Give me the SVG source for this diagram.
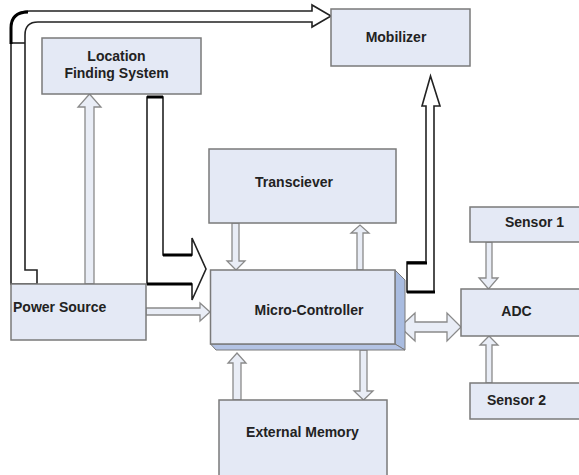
<svg xmlns="http://www.w3.org/2000/svg" width="579" height="475" viewBox="0 0 579 475">
<style>
.box{fill:#e4e9f5;stroke:#7a7a7a;stroke-width:1.5}
.lbl{font-family:"Liberation Sans",Arial,sans-serif;font-weight:bold;font-size:14px;fill:#222;text-anchor:middle}
.la{fill:#e9edf6;stroke:#8a8a8a;stroke-width:1.3;stroke-linejoin:miter}
.ba{fill:#ffffff;stroke:#222;stroke-width:1.6;stroke-linejoin:miter}
.thick{stroke:#000;stroke-width:3;fill:none}
</style>
<rect width="579" height="475" fill="#ffffff"/>

<g id="connectors">
  <!-- Power Source to Mobilizer (big black outline arrow) -->
  <path class="ba" d="M11,284 V30 Q11,11 30,11 H312 V5 L331,16 L312,27 V22 H38 Q25,22 25,35 V270 H37 V284 Z"/>
  <line x1="11" y1="43" x2="25" y2="43" stroke="#222" stroke-width="1.6"/>
  <path class="thick" d="M11,44 V28 Q11,12 28,12" stroke-width="2.5"/>
  <!-- LFS to Micro-Controller (big black outline arrow) -->
  <path class="ba" d="M147,97 H163 V255 H192 V238 L206,269 L192,300 V284 H147 Z"/>
  <path class="thick" d="M147,97 H163 M163,255 H192 M147,284 H192"/>
  <!-- Micro-Controller to Mobilizer -->
  <path class="ba" d="M407,262 H426 V106 H422 L430.5,76 L440,106 H434 V292 H407 Z"/>
  <path class="thick" d="M407,263 H427 M407,292 H435"/>
  <!-- Power Source to LFS -->
  <path class="la" d="M85,284 V107 H78 L89.5,94 L101,107 H94 V284 Z"/>
  <!-- Power Source to Micro -->
  <path class="la" d="M146,308 H200 V303 L210,312 L200,321 V315 H146 Z"/>
  <!-- Transceiver to Micro -->
  <path class="la" d="M232,223 V261 H227 L236,270 L245,261 H239 V223 Z"/>
  <!-- Micro to Transceiver -->
  <path class="la" d="M357,270 V233 H351 L360,225 L369,233 H363 V270 Z"/>
  <!-- External Memory to Micro -->
  <path class="la" d="M233,400 V363 H228 L237,353 L246,363 H241 V400 Z"/>
  <!-- Micro to External Memory -->
  <path class="la" d="M360,350 V391 H354 L363.5,400 L373,391 H367 V350 Z"/>
  <!-- Sensor 1 to ADC -->
  <path class="la" d="M486,242 V278 H479 L488.5,289 L498,278 H492 V242 Z"/>
  <!-- Sensor 2 to ADC -->
  <path class="la" d="M486,383 V345 H480 L489,336 L498,345 H492 V383 Z"/>
  <!-- Micro <-> ADC -->
  <path class="la" d="M400,327 L415,313 V322 H447 V313 L461,327 L447,341 V332 H415 V341 Z"/>
</g>

<g id="mobilizer">
  <rect class="box" x="331" y="9" width="139" height="57"/>
  <text class="lbl" x="396" y="42">Mobilizer</text>
</g>

<g id="lfs">
  <rect class="box" x="42" y="38" width="159" height="56"/>
  <text class="lbl" x="116.5" y="61">Location</text>
  <text class="lbl" x="116.5" y="78">Finding System</text>
</g>

<g id="transceiver">
  <rect class="box" x="209" y="149" width="187" height="74"/>
  <text class="lbl" x="294" y="187">Transciever</text>
</g>

<g id="power-source">
  <rect class="box" x="11" y="284" width="135" height="56"/>
  <text class="lbl" x="13" y="312" style="text-anchor:start">Power Source</text>
</g>

<g id="micro-controller">
  <polygon points="395,270 405,280 405,350 395,344" fill="#a9bce0" stroke="#7a7a7a" stroke-width="1"/>
  <polygon points="210.5,344 216,350 405,350 395,344" fill="#b3c3e4" stroke="#7a7a7a" stroke-width="1"/>
  <rect class="box" x="210.5" y="270" width="184.5" height="74"/>
  <text class="lbl" x="309" y="315">Micro-Controller</text>
</g>

<g id="external-memory">
  <rect class="box" x="219" y="400" width="168" height="90"/>
  <text class="lbl" x="302.5" y="437">External Memory</text>
</g>

<g id="sensor1">
  <rect class="box" x="470" y="207" width="120" height="35"/>
  <text class="lbl" x="534.5" y="227">Sensor 1</text>
</g>

<g id="adc">
  <rect class="box" x="461" y="289" width="130" height="47"/>
  <text class="lbl" x="516.5" y="316">ADC</text>
</g>

<g id="sensor2">
  <rect class="box" x="470" y="383" width="120" height="36"/>
  <text class="lbl" x="516.5" y="405">Sensor 2</text>
</g>
</svg>
